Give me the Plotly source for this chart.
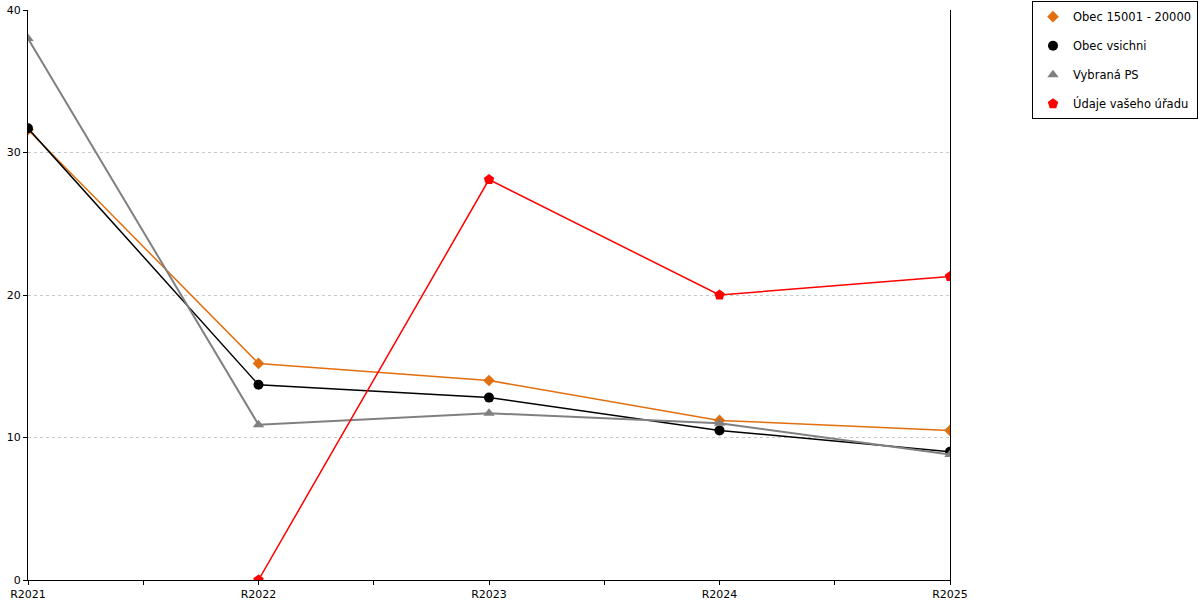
import plotly.graph_objects as go

years = ["R2021", "R2022", "R2023", "R2024", "R2025"]

obec_15001_20000 = [31.6, 15.2, 14.0, 11.2, 10.5]
obec_vsichni = [31.7, 13.7, 12.8, 10.5, 9.0]
vybrana_ps = [38.0, 10.9, 11.7, 11.0, 8.8]
udaje_uradu = [None, 0.0, 28.1, 20.0, 21.3]

y_ticks = [0, 10, 20, 30, 40]

pos = list(range(len(years)))

series = [
    ("Obec 15001 - 20000", obec_15001_20000, "#e26f0f", "diamond", 1.5, 9),
    ("Obec vsichni", obec_vsichni, "#000000", "circle", 1.5, 10),
    ("Vybraná PS", vybrana_ps, "#808080", "triangle-up", 2, 10),
    ("Údaje vašeho úřadu", udaje_uradu, "#ff0000", "pentagon", 1.5, 11),
]

fig = go.Figure()
for name, vals, color, symbol, lw, ms in series:
    # line without legend entry, markers carry the legend (marker-only swatch)
    fig.add_trace(go.Scatter(
        x=pos, y=vals, name=name, mode="lines", legendgroup=name,
        showlegend=False, line=dict(color=color, width=lw),
        hoverinfo="skip",
    ))
    fig.add_trace(go.Scatter(
        x=pos, y=vals, name=name, mode="markers", legendgroup=name,
        marker=dict(color=color, symbol=symbol, size=ms),
    ))

fig.update_layout(
    width=1200, height=600,
    margin=dict(l=28, r=250, t=10, b=20),
    plot_bgcolor="white", paper_bgcolor="white",
    font=dict(family="DejaVu Sans", size=11, color="#000000"),
    legend=dict(
        xref="container", yref="container",
        x=0.86, y=0.998, xanchor="left", yanchor="top",
        bordercolor="#000000", borderwidth=1,
        font=dict(size=11.5), tracegroupgap=10,
        traceorder="grouped", itemwidth=30,
    ),
)

fig.update_xaxes(
    range=[0, len(years) - 1], automargin=False,
    tickvals=pos, ticktext=years,
    ticks="outside", ticklen=4, tickcolor="#000000",
    minor=dict(dtick=0.5, tick0=0, ticks="outside", ticklen=4, tickcolor="#000000"),
    showline=True, linecolor="#000000", linewidth=1,
    showgrid=False, zeroline=False,
)

fig.update_yaxes(
    range=[0, 40], tickvals=y_ticks, automargin=False,
    ticklabeloverflow="allow",
    ticks="outside", ticklen=4, tickcolor="#000000",
    showline=True, linecolor="#000000", linewidth=1, mirror=True,
    showgrid=True, gridcolor="#c8c8c8", griddash="dot", gridwidth=1,
    zeroline=False,
)

# drop the default 8px body margin so the figure fills the window
fig.write_html(
    "out.html",
    config={"displayModeBar": False},
    post_script="document.body.style.margin='0px';",
)
